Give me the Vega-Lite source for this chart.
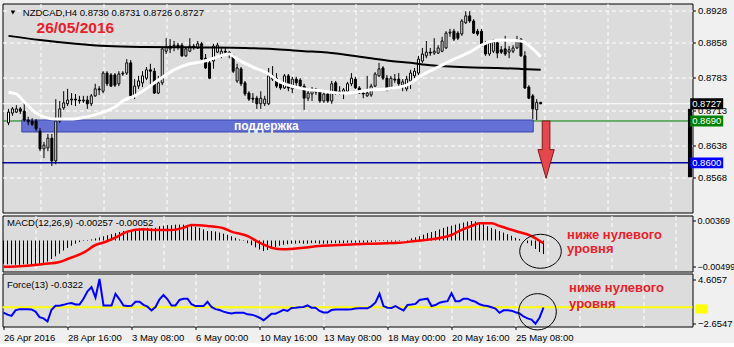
{
"$schema": "https://vega.github.io/schema/vega-lite/v6.json",
"background": "#f0f0f0",
"padding": {"left": -2.5, "top": 2.5, "right": 0, "bottom": 0},
"bounds": "flush",
"spacing": 3,
"config": {
  "view": {"fill": "#dcdcdc", "stroke": "#000000", "strokeWidth": 1},
  "axis": {"labelFont": "Liberation Sans", "labelFontSize": 9.5, "labelColor": "#000000", "tickColor": "#000000", "tickWidth": 1, "gridColor": "#ffffff", "gridDash": [4, 3], "gridWidth": 1, "gridOpacity": 1, "domain": false, "labelFlush": false, "labelOverlap": false, "labelBound": false}
},
"datasets": {
  "candles": [
{"i":0,"o":0.8686,"h":0.8716,"l":0.8681,"c":0.8709},
{"i":1,"o":0.8707,"h":0.8720,"l":0.8701,"c":0.8716},
{"i":2,"o":0.8709,"h":0.8724,"l":0.8707,"c":0.8716},
{"i":3,"o":0.8716,"h":0.8720,"l":0.8705,"c":0.8711},
{"i":4,"o":0.8711,"h":0.8729,"l":0.8688,"c":0.8692},
{"i":5,"o":0.8692,"h":0.8699,"l":0.8681,"c":0.8688},
{"i":6,"o":0.8690,"h":0.8696,"l":0.8679,"c":0.8683},
{"i":7,"o":0.8690,"h":0.8694,"l":0.8668,"c":0.8673},
{"i":8,"o":0.8668,"h":0.8675,"l":0.8625,"c":0.8630},
{"i":9,"o":0.8630,"h":0.8645,"l":0.8610,"c":0.8638},
{"i":10,"o":0.8632,"h":0.8662,"l":0.8625,"c":0.8653},
{"i":11,"o":0.8653,"h":0.8662,"l":0.8593,"c":0.8604},
{"i":12,"o":0.8604,"h":0.8737,"l":0.8597,"c":0.8690},
{"i":13,"o":0.8690,"h":0.8733,"l":0.8686,"c":0.8716},
{"i":14,"o":0.8718,"h":0.8754,"l":0.8714,"c":0.8729},
{"i":15,"o":0.8727,"h":0.8759,"l":0.8722,"c":0.8735},
{"i":16,"o":0.8735,"h":0.8750,"l":0.8724,"c":0.8737},
{"i":17,"o":0.8737,"h":0.8748,"l":0.8722,"c":0.8735},
{"i":18,"o":0.8735,"h":0.8744,"l":0.8727,"c":0.8733},
{"i":19,"o":0.8733,"h":0.8744,"l":0.8729,"c":0.8735},
{"i":20,"o":0.8735,"h":0.8744,"l":0.8716,"c":0.8727},
{"i":21,"o":0.8727,"h":0.8748,"l":0.8722,"c":0.8744},
{"i":22,"o":0.8744,"h":0.8770,"l":0.8742,"c":0.8759},
{"i":23,"o":0.8759,"h":0.8765,"l":0.8746,"c":0.8757},
{"i":24,"o":0.8754,"h":0.8797,"l":0.8750,"c":0.8793},
{"i":25,"o":0.8793,"h":0.8797,"l":0.8765,"c":0.8770},
{"i":26,"o":0.8789,"h":0.8793,"l":0.8763,"c":0.8765},
{"i":27,"o":0.8789,"h":0.8793,"l":0.8763,"c":0.8767},
{"i":28,"o":0.8770,"h":0.8797,"l":0.8765,"c":0.8791},
{"i":29,"o":0.8791,"h":0.8797,"l":0.8787,"c":0.8793},
{"i":30,"o":0.8793,"h":0.8823,"l":0.8789,"c":0.8815},
{"i":31,"o":0.8815,"h":0.8821,"l":0.8737,"c":0.8744},
{"i":32,"o":0.8744,"h":0.8780,"l":0.8737,"c":0.8765},
{"i":33,"o":0.8765,"h":0.8787,"l":0.8759,"c":0.8776},
{"i":34,"o":0.8772,"h":0.8797,"l":0.8763,"c":0.8787},
{"i":35,"o":0.8782,"h":0.8806,"l":0.8778,"c":0.8800},
{"i":36,"o":0.8800,"h":0.8813,"l":0.8765,"c":0.8797},
{"i":37,"o":0.8797,"h":0.8804,"l":0.8748,"c":0.8750},
{"i":38,"o":0.8750,"h":0.8787,"l":0.8748,"c":0.8772},
{"i":39,"o":0.8772,"h":0.8849,"l":0.8767,"c":0.8845},
{"i":40,"o":0.8840,"h":0.8868,"l":0.8834,"c":0.8849},
{"i":41,"o":0.8845,"h":0.8866,"l":0.8836,"c":0.8851},
{"i":42,"o":0.8851,"h":0.8862,"l":0.8840,"c":0.8853},
{"i":43,"o":0.8853,"h":0.8858,"l":0.8843,"c":0.8849},
{"i":44,"o":0.8853,"h":0.8858,"l":0.8828,"c":0.8830},
{"i":45,"o":0.8830,"h":0.8847,"l":0.8828,"c":0.8845},
{"i":46,"o":0.8840,"h":0.8868,"l":0.8838,"c":0.8851},
{"i":47,"o":0.8851,"h":0.8856,"l":0.8843,"c":0.8849},
{"i":48,"o":0.8847,"h":0.8862,"l":0.8845,"c":0.8856},
{"i":49,"o":0.8856,"h":0.8860,"l":0.8821,"c":0.8823},
{"i":50,"o":0.8825,"h":0.8834,"l":0.8802,"c":0.8804},
{"i":51,"o":0.8815,"h":0.8823,"l":0.8780,"c":0.8782},
{"i":52,"o":0.8819,"h":0.8856,"l":0.8802,"c":0.8851},
{"i":53,"o":0.8838,"h":0.8858,"l":0.8836,"c":0.8853},
{"i":54,"o":0.8830,"h":0.8847,"l":0.8825,"c":0.8840},
{"i":55,"o":0.8840,"h":0.8847,"l":0.8834,"c":0.8838},
{"i":56,"o":0.8838,"h":0.8840,"l":0.8825,"c":0.8832},
{"i":57,"o":0.8832,"h":0.8834,"l":0.8793,"c":0.8797},
{"i":58,"o":0.8776,"h":0.8813,"l":0.8772,"c":0.8804},
{"i":59,"o":0.8802,"h":0.8806,"l":0.8765,"c":0.8770},
{"i":60,"o":0.8772,"h":0.8776,"l":0.8744,"c":0.8748},
{"i":61,"o":0.8750,"h":0.8754,"l":0.8733,"c":0.8737},
{"i":62,"o":0.8739,"h":0.8750,"l":0.8729,"c":0.8737},
{"i":63,"o":0.8739,"h":0.8744,"l":0.8716,"c":0.8727},
{"i":64,"o":0.8727,"h":0.8754,"l":0.8716,"c":0.8739},
{"i":65,"o":0.8727,"h":0.8744,"l":0.8722,"c":0.8737},
{"i":66,"o":0.8727,"h":0.8804,"l":0.8724,"c":0.8787},
{"i":67,"o":0.8787,"h":0.8808,"l":0.8776,"c":0.8780},
{"i":68,"o":0.8782,"h":0.8793,"l":0.8761,"c":0.8765},
{"i":69,"o":0.8770,"h":0.8776,"l":0.8757,"c":0.8761},
{"i":70,"o":0.8761,"h":0.8791,"l":0.8759,"c":0.8787},
{"i":71,"o":0.8787,"h":0.8791,"l":0.8754,"c":0.8761},
{"i":72,"o":0.8759,"h":0.8785,"l":0.8750,"c":0.8780},
{"i":73,"o":0.8780,"h":0.8785,"l":0.8765,"c":0.8772},
{"i":74,"o":0.8778,"h":0.8782,"l":0.8761,"c":0.8765},
{"i":75,"o":0.8765,"h":0.8770,"l":0.8714,"c":0.8739},
{"i":76,"o":0.8739,"h":0.8761,"l":0.8733,"c":0.8750},
{"i":77,"o":0.8748,"h":0.8763,"l":0.8733,"c":0.8759},
{"i":78,"o":0.8757,"h":0.8761,"l":0.8746,"c":0.8752},
{"i":79,"o":0.8752,"h":0.8757,"l":0.8729,"c":0.8733},
{"i":80,"o":0.8733,"h":0.8752,"l":0.8729,"c":0.8748},
{"i":81,"o":0.8748,"h":0.8752,"l":0.8729,"c":0.8733},
{"i":82,"o":0.8733,"h":0.8776,"l":0.8727,"c":0.8770},
{"i":83,"o":0.8772,"h":0.8776,"l":0.8746,"c":0.8750},
{"i":84,"o":0.8754,"h":0.8765,"l":0.8746,"c":0.8752},
{"i":85,"o":0.8752,"h":0.8761,"l":0.8737,"c":0.8757},
{"i":86,"o":0.8754,"h":0.8774,"l":0.8750,"c":0.8770},
{"i":87,"o":0.8770,"h":0.8793,"l":0.8765,"c":0.8782},
{"i":88,"o":0.8780,"h":0.8785,"l":0.8759,"c":0.8761},
{"i":89,"o":0.8761,"h":0.8765,"l":0.8748,"c":0.8750},
{"i":90,"o":0.8750,"h":0.8757,"l":0.8739,"c":0.8748},
{"i":91,"o":0.8744,"h":0.8787,"l":0.8742,"c":0.8750},
{"i":92,"o":0.8746,"h":0.8770,"l":0.8742,"c":0.8765},
{"i":93,"o":0.8765,"h":0.8795,"l":0.8763,"c":0.8791},
{"i":94,"o":0.8787,"h":0.8815,"l":0.8785,"c":0.8802},
{"i":95,"o":0.8804,"h":0.8808,"l":0.8778,"c":0.8782},
{"i":96,"o":0.8782,"h":0.8789,"l":0.8754,"c":0.8759},
{"i":97,"o":0.8759,"h":0.8787,"l":0.8757,"c":0.8782},
{"i":98,"o":0.8780,"h":0.8791,"l":0.8772,"c":0.8778},
{"i":99,"o":0.8780,"h":0.8793,"l":0.8765,"c":0.8770},
{"i":100,"o":0.8767,"h":0.8780,"l":0.8754,"c":0.8774},
{"i":101,"o":0.8759,"h":0.8787,"l":0.8754,"c":0.8780},
{"i":102,"o":0.8776,"h":0.8800,"l":0.8759,"c":0.8793},
{"i":103,"o":0.8787,"h":0.8804,"l":0.8782,"c":0.8797},
{"i":104,"o":0.8793,"h":0.8830,"l":0.8789,"c":0.8823},
{"i":105,"o":0.8819,"h":0.8847,"l":0.8815,"c":0.8834},
{"i":106,"o":0.8830,"h":0.8862,"l":0.8825,"c":0.8838},
{"i":107,"o":0.8838,"h":0.8847,"l":0.8830,"c":0.8836},
{"i":108,"o":0.8836,"h":0.8868,"l":0.8832,"c":0.8840},
{"i":109,"o":0.8836,"h":0.8853,"l":0.8834,"c":0.8847},
{"i":110,"o":0.8840,"h":0.8871,"l":0.8838,"c":0.8862},
{"i":111,"o":0.8847,"h":0.8883,"l":0.8845,"c":0.8879},
{"i":112,"o":0.8879,"h":0.8888,"l":0.8871,"c":0.8881},
{"i":113,"o":0.8883,"h":0.8888,"l":0.8862,"c":0.8866},
{"i":114,"o":0.8879,"h":0.8883,"l":0.8864,"c":0.8868},
{"i":115,"o":0.8877,"h":0.8909,"l":0.8873,"c":0.8905},
{"i":116,"o":0.8901,"h":0.8926,"l":0.8899,"c":0.8916},
{"i":117,"o":0.8916,"h":0.8926,"l":0.8901,"c":0.8905},
{"i":118,"o":0.8905,"h":0.8909,"l":0.8877,"c":0.8879},
{"i":119,"o":0.8883,"h":0.8888,"l":0.8873,"c":0.8877},
{"i":120,"o":0.8883,"h":0.8888,"l":0.8849,"c":0.8851},
{"i":121,"o":0.8858,"h":0.8862,"l":0.8830,"c":0.8834},
{"i":122,"o":0.8834,"h":0.8862,"l":0.8830,"c":0.8858},
{"i":123,"o":0.8840,"h":0.8866,"l":0.8836,"c":0.8860},
{"i":124,"o":0.8858,"h":0.8862,"l":0.8825,"c":0.8836},
{"i":125,"o":0.8843,"h":0.8851,"l":0.8834,"c":0.8838},
{"i":126,"o":0.8845,"h":0.8873,"l":0.8830,"c":0.8834},
{"i":127,"o":0.8838,"h":0.8851,"l":0.8825,"c":0.8843},
{"i":128,"o":0.8840,"h":0.8853,"l":0.8836,"c":0.8847},
{"i":129,"o":0.8847,"h":0.8873,"l":0.8845,"c":0.8862},
{"i":130,"o":0.8866,"h":0.8868,"l":0.8828,"c":0.8830},
{"i":131,"o":0.8830,"h":0.8840,"l":0.8759,"c":0.8761},
{"i":132,"o":0.8763,"h":0.8767,"l":0.8737,"c":0.8739},
{"i":133,"o":0.8744,"h":0.8748,"l":0.8694,"c":0.8716},
{"i":134,"o":0.8714,"h":0.8737,"l":0.8692,"c":0.8730},
{"i":135,"o":0.8730,"h":0.8731,"l":0.8726,"c":0.8727}
  ],
  "ind": [
{"i":0,"hist":-0.0044,"force":-0.85},{"i":1,"hist":-0.0045,"force":-1.2},{"i":2,"hist":-0.0045,"force":-1.4},{"i":3,"hist":-0.0046,"force":-0.5},
{"i":4,"hist":-0.0046,"force":-0.3},{"i":5,"hist":-0.0045,"force":-0.3},{"i":6,"hist":-0.0045,"force":-0.3},{"i":7,"hist":-0.0046,"force":-0.35},
{"i":8,"hist":-0.0046,"force":-0.7},{"i":9,"hist":-0.0045,"force":-1.6},{"i":10,"hist":-0.0043,"force":-1.8},{"i":11,"hist":-0.004,"force":-2.3},
{"i":12,"hist":-0.0035,"force":-0.4},{"i":13,"hist":-0.003,"force":0.25},{"i":14,"hist":-0.0025,"force":0.25},{"i":15,"hist":-0.0019,"force":0.4},
{"i":16,"hist":-0.0014,"force":0.6},{"i":17,"hist":-0.001,"force":0.7},{"i":18,"hist":-0.0006,"force":0.45},{"i":19,"hist":-0.0003,"force":0.45},
{"i":20,"hist":-0.0001,"force":1.4},{"i":21,"hist":0.0001,"force":2.6},{"i":22,"hist":0.0002,"force":3.3},{"i":23,"hist":0.0004,"force":1.6},
{"i":24,"hist":0.0006,"force":4.6057},{"i":25,"hist":0.0008,"force":0.3},{"i":26,"hist":0.001,"force":0.3},{"i":27,"hist":0.0012,"force":0.3},
{"i":28,"hist":0.0014,"force":2.2},{"i":29,"hist":0.0016,"force":1.3},{"i":30,"hist":0.0018,"force":0.3},{"i":31,"hist":0.0018,"force":0.2},
{"i":32,"hist":0.002,"force":0.25},{"i":33,"hist":0.0021,"force":0.9},{"i":34,"hist":0.0022,"force":0.9},{"i":35,"hist":0.0023,"force":0.4},
{"i":36,"hist":0.0024,"force":0.1},{"i":37,"hist":0.0023,"force":-0.5},{"i":38,"hist":0.0024,"force":0.05},{"i":39,"hist":0.0027,"force":1.3},
{"i":40,"hist":0.0028,"force":2.0},{"i":41,"hist":0.0029,"force":1.3},{"i":42,"hist":0.0029,"force":0.3},{"i":43,"hist":0.003,"force":0.3},
{"i":44,"hist":0.003,"force":1.2},{"i":45,"hist":0.003,"force":1.4},{"i":46,"hist":0.0029,"force":1.4},{"i":47,"hist":0.0028,"force":0.5},
{"i":48,"hist":0.0026,"force":0.2},{"i":49,"hist":0.0024,"force":0.2},{"i":50,"hist":0.0021,"force":0.2},{"i":51,"hist":0.0018,"force":0.9},
{"i":52,"hist":0.0018,"force":0.05},{"i":53,"hist":0.0017,"force":-0.3},{"i":54,"hist":0.0015,"force":-0.44},{"i":55,"hist":0.0013,"force":-0.7},
{"i":56,"hist":0.0011,"force":-0.9},{"i":57,"hist":0.0008,"force":-1.0},{"i":58,"hist":0.0005,"force":-0.9},{"i":59,"hist":0.0002,"force":-0.9},
{"i":60,"hist":-0.0001,"force":-0.9},{"i":61,"hist":-0.0005,"force":-1.15},{"i":62,"hist":-0.0009,"force":-1.2},{"i":63,"hist":-0.0013,"force":-1.4},
{"i":64,"hist":-0.0017,"force":-1.7},{"i":65,"hist":-0.002,"force":-2.1},{"i":66,"hist":-0.0018,"force":-1.6},{"i":67,"hist":-0.0015,"force":-1.05},
{"i":68,"hist":-0.0012,"force":-1.05},{"i":69,"hist":-0.001,"force":-0.75},{"i":70,"hist":-0.0008,"force":-0.4},{"i":71,"hist":-0.0007,"force":-0.6},
{"i":72,"hist":-0.0006,"force":-0.1},{"i":73,"hist":-0.0006,"force":-0.06},{"i":74,"hist":-0.0005,"force":0.0},{"i":75,"hist":-0.0006,"force":0.05},
{"i":76,"hist":-0.0006,"force":0.3},{"i":77,"hist":-0.0005,"force":-0.06},{"i":78,"hist":-0.0005,"force":-0.06},{"i":79,"hist":-0.0006,"force":-0.6},
{"i":80,"hist":-0.0006,"force":-0.85},{"i":81,"hist":-0.0006,"force":-0.85},{"i":82,"hist":-0.0005,"force":-0.45},{"i":83,"hist":-0.0005,"force":-0.35},
{"i":84,"hist":-0.0005,"force":-0.35},{"i":85,"hist":-0.0005,"force":-0.35},{"i":86,"hist":-0.0004,"force":-0.34},{"i":87,"hist":-0.0004,"force":-0.3},
{"i":88,"hist":-0.0004,"force":-0.2},{"i":89,"hist":-0.0004,"force":-0.17},{"i":90,"hist":-0.0004,"force":-0.17},{"i":91,"hist":-0.0004,"force":-0.17},
{"i":92,"hist":-0.0003,"force":0.2},{"i":93,"hist":-0.0002,"force":0.8},{"i":94,"hist":-0.0001,"force":2.2},{"i":95,"hist":-0.0001,"force":0.2},
{"i":96,"hist":-0.0002,"force":-0.06},{"i":97,"hist":-0.0002,"force":-0.1},{"i":98,"hist":-0.0002,"force":0.2},{"i":99,"hist":-0.0001,"force":-0.17},
{"i":100,"hist":0.0,"force":-0.5},{"i":101,"hist":0.0001,"force":0.37},{"i":102,"hist":0.0004,"force":0.45},{"i":103,"hist":0.0006,"force":0.55},
{"i":104,"hist":0.0008,"force":1.2},{"i":105,"hist":0.0011,"force":1.3},{"i":106,"hist":0.0014,"force":1.4},{"i":107,"hist":0.0016,"force":0.2},
{"i":108,"hist":0.0018,"force":0.37},{"i":109,"hist":0.0021,"force":0.75},{"i":110,"hist":0.0024,"force":0.9},{"i":111,"hist":0.0026,"force":1.0},
{"i":112,"hist":0.0028,"force":2.3},{"i":113,"hist":0.003,"force":1.0},{"i":114,"hist":0.0032,"force":1.0},{"i":115,"hist":0.0034,"force":1.4},
{"i":116,"hist":0.0036,"force":1.4},{"i":117,"hist":0.00369,"force":1.1},{"i":118,"hist":0.0036,"force":0.9},{"i":119,"hist":0.0034,"force":0.5},
{"i":120,"hist":0.0031,"force":0.3},{"i":121,"hist":0.0027,"force":0.2},{"i":122,"hist":0.0024,"force":0.0},{"i":123,"hist":0.0021,"force":-0.2},
{"i":124,"hist":0.0018,"force":-0.9},{"i":125,"hist":0.0015,"force":-0.5},{"i":126,"hist":0.0012,"force":-0.5},{"i":127,"hist":0.0009,"force":-0.55},
{"i":128,"hist":0.0005,"force":-0.8},{"i":129,"hist":0.0003,"force":-1.0},{"i":130,"hist":0.0,"force":-1.5},{"i":131,"hist":-0.0005,"force":-1.8},
{"i":132,"hist":-0.001,"force":-2.0},{"i":133,"hist":-0.0016,"force":-2.6547},{"i":134,"hist":-0.0022,"force":-1.7},{"i":135,"hist":-0.00257,"force":-0.0322}
  ],
  "signal": [
{"i":0,"s":-0.00499},{"i":5,"s":-0.00482},{"i":10,"s":-0.00445},{"i":14,"s":-0.00407},{"i":16,"s":-0.0035},{"i":20,"s":-0.00231},{"i":23,"s":-0.00085},{"i":25,"s":-0.00038},{"i":28,"s":0.00057},{"i":31,"s":0.00167},{"i":35,"s":0.00212},{"i":38,"s":0.00199},{"i":42,"s":0.00199},{"i":45,"s":0.00242},{"i":47,"s":0.00293},{"i":51,"s":0.00274},{"i":55,"s":0.00231},{"i":57,"s":0.00167},{"i":61,"s":0.00085},{"i":64,"s":-0.00042},{"i":67,"s":-0.00136},{"i":70,"s":-0.00167},{"i":75,"s":-0.00136},{"i":79,"s":-0.00104},{"i":84,"s":-0.00085},{"i":91,"s":-0.00061},{"i":99,"s":-0.00042},{"i":103,"s":-0.00009},{"i":107,"s":0.00023},{"i":112,"s":0.00104},{"i":114,"s":0.0018},{"i":117,"s":0.00274},{"i":119,"s":0.00325},{"i":122,"s":0.00325},{"i":124,"s":0.00274},{"i":128,"s":0.0018},{"i":132,"s":0.00085},{"i":135,"s":-0.00052}
  ],
  "maSlow": [
{"i":0,"p":0.8873},{"i":8,"p":0.8864},{"i":17,"p":0.8856},{"i":25,"p":0.8851},{"i":34,"p":0.8849},{"i":50,"p":0.8848},{"i":60,"p":0.8847},{"i":67,"p":0.8845},{"i":75,"p":0.884},{"i":80,"p":0.8838},{"i":86,"p":0.8832},{"i":92,"p":0.8825},{"i":97,"p":0.8819},{"i":102,"p":0.8815},{"i":107,"p":0.881},{"i":112,"p":0.8807},{"i":118,"p":0.8805},{"i":124,"p":0.8804},{"i":130,"p":0.8802},{"i":135,"p":0.88}
  ],
  "maFast": [
{"i":0,"p":0.8752},{"i":2,"p":0.8748},{"i":4,"p":0.8731},{"i":7,"p":0.8707},{"i":9,"p":0.8699},{"i":12,"p":0.8694},{"i":15,"p":0.8694},{"i":18,"p":0.8696},{"i":21,"p":0.8701},{"i":24,"p":0.8709},{"i":27,"p":0.872},{"i":29,"p":0.8733},{"i":32,"p":0.8744},{"i":34,"p":0.8754},{"i":38,"p":0.8778},{"i":42,"p":0.88},{"i":46,"p":0.8813},{"i":49,"p":0.8817},{"i":52,"p":0.8825},{"i":56,"p":0.8834},{"i":58,"p":0.8823},{"i":62,"p":0.8806},{"i":66,"p":0.8791},{"i":68,"p":0.8778},{"i":75,"p":0.8759},{"i":80,"p":0.8754},{"i":84,"p":0.875},{"i":88,"p":0.8752},{"i":92,"p":0.8757},{"i":96,"p":0.8759},{"i":101,"p":0.8767},{"i":105,"p":0.8789},{"i":109,"p":0.8806},{"i":113,"p":0.8823},{"i":117,"p":0.8838},{"i":120,"p":0.8853},{"i":122,"p":0.886},{"i":125,"p":0.8864},{"i":130,"p":0.8862},{"i":133,"p":0.8845},{"i":135,"p":0.8828}
  ],
  "zone": [{"from": 3.375, "to": 133.125, "top": 0.86921, "bottom": 0.86663}],
  "scalebar": [{"at": 172.875, "top": 0.8716, "bottom": 0.8569}],
  "tags": [{"p":0.8727},{"p":0.869},{"p":0.86}]
},
"vconcat": [
{
  "width": 690, "height": 209,
  "layer": [
    {"data": {"values": [{}]}, "mark": {"type": "rule", "color": "#ffffff", "strokeWidth": 1},
     "encoding": {"y": {"datum": 0.8727, "type": "quantitative", "scale": {"domain": [0.849317, 0.894262], "nice": false, "zero": false},
       "axis": {"orient": "right", "values": [0.8928, 0.8858, 0.8783, 0.8713, 0.8638, 0.8568, 0.8493], "format": ".4f", "grid": true, "tickSize": 3, "labelPadding": 2, "title": null}}}},
    {"data": {"values": [{}]}, "mark": {"type": "rule", "color": "#008000", "strokeWidth": 1}, "encoding": {"y": {"datum": 0.869, "type": "quantitative"}}},
    {"data": {"values": [{}]}, "mark": {"type": "rule", "color": "#0000a0", "strokeWidth": 1.4}, "encoding": {"y": {"datum": 0.86, "type": "quantitative"}}},
    {"data": {"name": "zone"}, "mark": {"type": "rect", "fill": "#6570d4", "stroke": "#3a48ad", "strokeWidth": 1},
     "encoding": {"x": {"field": "from", "type": "quantitative", "axis": {"title": null}}, "x2": {"field": "to"}, "y": {"field": "top", "type": "quantitative", "axis": {"title": null}}, "y2": {"field": "bottom"}}},
    {"data": {"name": "candles"}, "mark": {"type": "rule", "color": "#000000", "strokeWidth": 1},
     "encoding": {"x": {"field": "i", "type": "quantitative", "scale": {"domain": [-0.25, 172.25], "nice": false, "zero": false},
       "axis": {"values": [8,16,24,32,40,48,56,64,72,80,88,96,104,112,120,128,136,144,152,160,168], "grid": true, "labels": false, "ticks": false, "title": null}},
      "y": {"field": "l", "type": "quantitative", "axis": {"title": null}}, "y2": {"field": "h"}}},
    {"data": {"name": "candles"}, "mark": {"type": "bar", "width": 2, "stroke": "#000000", "strokeWidth": 1},
     "encoding": {"x": {"field": "i", "type": "quantitative", "axis": {"title": null}}, "y": {"field": "o", "type": "quantitative", "axis": {"title": null}}, "y2": {"field": "c"},
      "fill": {"condition": {"test": "datum.c > datum.o", "value": "#ffffff"}, "value": "#000000"}}},
    {"data": {"name": "maSlow"}, "mark": {"type": "line", "color": "#000000", "strokeWidth": 2, "interpolate": "monotone"},
     "encoding": {"x": {"field": "i", "type": "quantitative", "axis": {"title": null}}, "y": {"field": "p", "type": "quantitative", "axis": {"title": null}}}},
    {"data": {"name": "maFast"}, "mark": {"type": "line", "color": "#ffffff", "strokeWidth": 3, "interpolate": "monotone"},
     "encoding": {"x": {"field": "i", "type": "quantitative", "axis": {"title": null}}, "y": {"field": "p", "type": "quantitative", "axis": {"title": null}}}},
    {"data": {"values": [{}]}, "mark": {"type": "point", "shape": "M-0.134,-1L0.134,-1L0.134,0L0.284,0L0,1L-0.284,0L-0.134,0Z", "size": 3283, "filled": true, "fill": "#e4474e", "stroke": "#801818", "strokeWidth": 1, "opacity": 1},
     "encoding": {"x": {"datum": 136.375, "type": "quantitative"}, "y": {"datum": 0.86284, "type": "quantitative"}}},
    {"data": {"values": [{}]}, "mark": {"type": "text", "text": "поддержка", "font": "Liberation Sans", "fontSize": 12, "fontWeight": "bold", "color": "#ffffff", "align": "center", "baseline": "middle"},
     "encoding": {"x": {"datum": 65.4, "type": "quantitative"}, "y": {"datum": 0.86792, "type": "quantitative"}}},
    {"data": {"values": [{}]}, "mark": {"type": "point", "shape": "triangle-down", "size": 22, "filled": true, "color": "#000000", "opacity": 1},
     "encoding": {"x": {"datum": 1.125, "type": "quantitative"}, "y": {"datum": 0.89233, "type": "quantitative"}}},
    {"data": {"values": [{}]}, "mark": {"type": "text", "text": "NZDCAD,H4  0.8730 0.8731 0.8726 0.8727", "font": "Liberation Sans", "fontSize": 9.5, "color": "#000000", "align": "left", "baseline": "middle"},
     "encoding": {"x": {"datum": 3.625, "type": "quantitative"}, "y": {"datum": 0.89222, "type": "quantitative"}}},
    {"data": {"values": [{}]}, "mark": {"type": "text", "text": "26/05/2016", "font": "Liberation Sans", "fontSize": 15.5, "fontWeight": "bold", "color": "#e8202a", "align": "left", "baseline": "alphabetic"},
     "encoding": {"x": {"datum": 7.125, "type": "quantitative"}, "y": {"datum": 0.88798, "type": "quantitative"}}},
    {"data": {"name": "scalebar"}, "mark": {"type": "rule", "color": "#000000", "strokeWidth": 4},
     "encoding": {"x": {"field": "at", "type": "quantitative", "axis": {"title": null}}, "y": {"field": "top", "type": "quantitative", "axis": {"title": null}}, "y2": {"field": "bottom"}}},
    {"data": {"name": "tags"}, "mark": {"type": "point", "shape": "M-1,-0.33L1,-0.33L1,0.33L-1,0.33Z", "size": 1089, "filled": true, "opacity": 1},
     "encoding": {"x": {"datum": 177.125, "type": "quantitative"}, "y": {"field": "p", "type": "quantitative", "axis": {"title": null}},
      "color": {"field": "p", "type": "nominal", "scale": {"domain": [0.8727, 0.869, 0.86], "range": ["#000000", "#008000", "#0000ff"]}, "legend": null}}},
    {"data": {"name": "tags"}, "mark": {"type": "text", "font": "Liberation Sans", "fontSize": 9.5, "color": "#ffffff", "align": "center", "baseline": "middle"},
     "encoding": {"x": {"datum": 177.125, "type": "quantitative"}, "y": {"field": "p", "type": "quantitative", "axis": {"title": null}}, "text": {"field": "p", "type": "quantitative", "format": ".4f"}}}
  ]
},
{
  "bounds": "flush",
  "spacing": 2,
  "vconcat": [
  {
    "width": 690, "height": 56,
    "layer": [
      {"data": {"name": "ind"}, "mark": {"type": "rule", "color": "#000000", "strokeWidth": 1},
       "encoding": {"x": {"field": "i", "type": "quantitative", "scale": {"domain": [-0.25, 172.25], "nice": false, "zero": false},
         "axis": {"values": [8,16,24,32,40,48,56,64,72,80,88,96,104,112,120,128,136,144,152,160,168], "grid": true, "labels": false, "ticks": false, "title": null}},
        "y": {"field": "hist", "type": "quantitative", "scale": {"domain": [-0.005866, 0.00473], "nice": false, "zero": false},
         "axis": {"orient": "right", "values": [0.00369, 0, -0.00499], "labelExpr": "datum.value == 0 ? '0.00' : format(datum.value, '.5f')", "grid": true,
           "gridOpacity": {"condition": {"test": "datum.value == 0", "value": 1}, "value": 0}, "tickSize": 3, "labelPadding": 1.5, "labelFontSize": 9, "title": null}},
        "y2": {"datum": 0}}},
      {"data": {"name": "signal"}, "mark": {"type": "line", "color": "#ff0000", "strokeWidth": 2.5, "interpolate": "monotone"},
       "encoding": {"x": {"field": "i", "type": "quantitative", "axis": {"title": null}}, "y": {"field": "s", "type": "quantitative", "axis": {"title": null}}}},
      {"data": {"values": [{}]}, "mark": {"type": "point", "shape": "M-1,0C-1,-0.451,-0.552,-0.817,0,-0.817C0.552,-0.817,1,-0.451,1,0C1,0.451,0.552,0.817,0,0.817C-0.552,0.817,-1,0.451,-1,0Z", "size": 1731, "filled": false, "stroke": "#000000", "strokeWidth": 1, "opacity": 1},
       "encoding": {"x": {"datum": 134.25, "type": "quantitative"}, "y": {"datum": -0.00204, "type": "quantitative"}}},
      {"data": {"values": [{}]}, "mark": {"type": "text", "text": "MACD(12,26,9) -0.00257 -0.00052", "font": "Liberation Sans", "fontSize": 9.5, "color": "#000000", "align": "left", "baseline": "middle"},
       "encoding": {"x": {"datum": 0.875, "type": "quantitative"}, "y": {"datum": 0.00322, "type": "quantitative"}}},
      {"data": {"values": [{}]}, "mark": {"type": "text", "text": "ниже нулевого", "font": "Liberation Sans", "fontSize": 13, "fontWeight": "bold", "color": "#e8202a", "align": "left"},
       "encoding": {"x": {"datum": 140.9, "type": "quantitative"}, "y": {"datum": 0.00104, "type": "quantitative"}}},
      {"data": {"values": [{}]}, "mark": {"type": "text", "text": "уровня", "font": "Liberation Sans", "fontSize": 13, "fontWeight": "bold", "color": "#e8202a", "align": "left"},
       "encoding": {"x": {"datum": 140.9, "type": "quantitative"}, "y": {"datum": -0.00159, "type": "quantitative"}}}
    ]
  },
  {
    "width": 690, "height": 53,
    "layer": [
      {"data": {"values": [{}]}, "mark": {"type": "rule", "color": "#ffff00", "strokeWidth": 2},
       "encoding": {"y": {"datum": 0, "type": "quantitative", "scale": {"domain": [-3.127, 5.505], "nice": false, "zero": false},
         "axis": {"orient": "right", "values": [4.6057, 0, -2.6547], "labelExpr": "datum.value == 0 ? '0.00' : format(datum.value, '.4f')", "grid": false, "tickSize": 3, "labelPadding": 2, "zindex": 1, "title": null}}}},
      {"data": {"values": [{}]}, "mark": {"type": "point", "shape": "M-1,-0.75L1,-0.75L1,0.75L-1,0.75Z", "size": 150, "filled": true, "color": "#ffff00", "opacity": 1},
       "encoding": {"x": {"datum": 174.5, "type": "quantitative"}, "y": {"datum": -0.28, "type": "quantitative"}}},
      {"data": {"name": "ind"}, "mark": {"type": "line", "color": "#0000ff", "strokeWidth": 2},
       "encoding": {"x": {"field": "i", "type": "quantitative", "scale": {"domain": [-0.25, 172.25], "nice": false, "zero": false},
         "axis": {"values": [0,8,16,24,32,40,48,56,64,72,80,88,96,104,112,120,128,136,144,152,160,168], "grid": true,
           "gridOpacity": {"condition": {"test": "datum.value == 0", "value": 0}, "value": 1},
           "labelExpr": "datum.value % 16 == 0 && datum.value <= 128 ? ['26 Apr 2016','28 Apr 16:00','3 May 08:00','6 May 00:00','10 May 16:00','13 May 08:00','18 May 00:00','20 May 16:00','25 May 08:00'][datum.value / 16] : ''",
           "labelAlign": "left", "tickSize": 3, "labelPadding": 3,
           "tickOpacity": {"condition": {"test": "datum.value % 16 == 0 && datum.value <= 128", "value": 1}, "value": 0}, "title": null}},
        "y": {"field": "force", "type": "quantitative", "axis": {"title": null}}}},
      {"data": {"values": [{}]}, "mark": {"type": "point", "shape": "M-1,0C-1,-0.532,-0.552,-0.963,0,-0.963C0.552,-0.963,1,-0.532,1,0C1,0.532,0.552,0.963,0,0.963C-0.552,0.963,-1,0.532,-1,0Z", "size": 1421, "filled": false, "stroke": "#000000", "strokeWidth": 1, "opacity": 1},
       "encoding": {"x": {"datum": 133.5, "type": "quantitative"}, "y": {"datum": -0.73, "type": "quantitative"}}},
      {"data": {"values": [{}]}, "mark": {"type": "text", "text": "Force(13) -0.0322", "font": "Liberation Sans", "fontSize": 9.5, "color": "#000000", "align": "left", "baseline": "middle"},
       "encoding": {"x": {"datum": 0.875, "type": "quantitative"}, "y": {"datum": 3.71, "type": "quantitative"}}},
      {"data": {"values": [{}]}, "mark": {"type": "text", "text": "ниже нулевого", "font": "Liberation Sans", "fontSize": 13, "fontWeight": "bold", "color": "#e8202a", "align": "left"},
       "encoding": {"x": {"datum": 141.4, "type": "quantitative"}, "y": {"datum": 3.1, "type": "quantitative"}}},
      {"data": {"values": [{}]}, "mark": {"type": "text", "text": "уровня", "font": "Liberation Sans", "fontSize": 13, "fontWeight": "bold", "color": "#e8202a", "align": "left"},
       "encoding": {"x": {"datum": 141.4, "type": "quantitative"}, "y": {"datum": 0.54, "type": "quantitative"}}}
    ]
  }
  ]
}
]
}
